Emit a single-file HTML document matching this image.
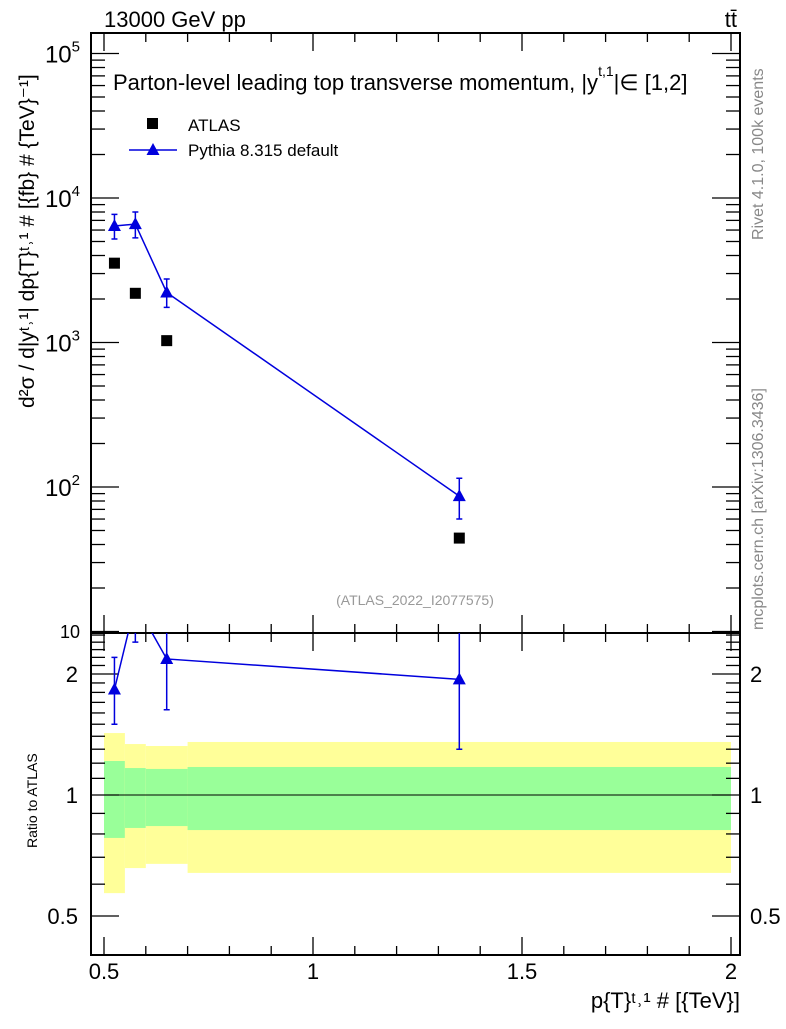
<!DOCTYPE html>
<html><head><meta charset="utf-8"><style>
body{margin:0;background:#fff;}
svg{font-family:"Liberation Sans",sans-serif;}
</style></head><body>
<svg id="c" width="786" height="1024" viewBox="0 0 786 1024" xmlns="http://www.w3.org/2000/svg"></svg>
<script>
const xVals=[0.525,0.575,0.65,1.35];
const atlasVals=[3540,2190,1030,44.3];
const pythiaVals=[6400,6600,2220,86.5];
const pythiaErrUp=[7700,8000,2750,115];
const pythiaErrDn=[5200,5300,1750,60];
const ratioVals=[1.83,3.0,2.18,1.94];
const ratioErrUp=[2.2,3.6,2.6,2.6];
const ratioErrDn=[1.5,2.4,1.63,1.3];
const binEdges=[0.5,0.55,0.6,0.7,2.0];
const greenHi=[1.215,1.167,1.161,1.174];
const greenLo=[0.782,0.828,0.837,0.818];
const yellowHi=[1.426,1.339,1.324,1.355];
const yellowLo=[0.570,0.658,0.674,0.640];
const xTicks=[0.5,1,1.5,2];
const xTickLabels=["0.5","1","1.5","2"];
const yExps=[2,3,4,5];
const ratioTicks=[0.5,1,2];
const ratioTickLabels=["0.5","1","2"];

const NS="http://www.w3.org/2000/svg";
const svg=document.getElementById('c');
const L=91,R=740,T=33,MB=633,RB=955;
const X=v=>104+(v-0.5)*418;
const Y=v=>631.5-(Math.log10(v)-1)*144.5;
const YR=v=>795-Math.log2(v)*121;
function el(tag,attrs,name,inter,parent){const e=document.createElementNS(NS,tag);for(const k in attrs)e.setAttribute(k,attrs[k]);


(parent||svg).appendChild(e);return e;}
function txt(x,y,s,size,name,extra){const t=el('text',Object.assign({x:x,y:y,'font-size':size},extra||{}),name,false);t.textContent=s;return t;}

const bands=el('g',{},'ratio-bands',false);
for(let i=0;i<4;i++){
 el('rect',{x:X(binEdges[i]),y:YR(yellowHi[i]),width:X(binEdges[i+1])-X(binEdges[i]),height:YR(yellowLo[i])-YR(yellowHi[i]),fill:'#ffff99'},'yellow-band-bin',false,bands);
 el('rect',{x:X(binEdges[i]),y:YR(greenHi[i]),width:X(binEdges[i+1])-X(binEdges[i]),height:YR(greenLo[i])-YR(greenHi[i]),fill:'#99ff99'},'green-band-bin',false,bands);
}
el('line',{x1:X(0.5),x2:R,y1:YR(1),y2:YR(1),stroke:'#000','stroke-width':1},'ratio-unity-line',false);

el('rect',{x:L,y:T,width:R-L,height:MB-T,fill:'none',stroke:'#000','stroke-width':2},'main-frame',false);
el('rect',{x:L,y:MB,width:R-L,height:RB-MB,fill:'none',stroke:'#000','stroke-width':2},'ratio-frame',false);

const tk=el('g',{stroke:'#000','stroke-width':1.3},'x-ticks',false);
for(let v=0.5;v<=2.001;v+=0.1){const maj=Math.abs(v*2-Math.round(v*2))<1e-6;const len=maj?18:9;const x=X(v);
 [[T,T+len],[MB,MB-len],[MB,MB+len],[RB,RB-len]].forEach(p=>el('line',{x1:x,x2:x,y1:p[0],y2:p[1]},'x-tick',false,tk));}
xTicks.forEach((v,i)=>txt(X(v),979,xTickLabels[i],22,'x-tick-label',{'text-anchor':'middle'}));

const yt=el('g',{stroke:'#000','stroke-width':1.3},'y-ticks',false);
for(let e=1;e<=5;e++){for(let m=1;m<10;m++){const v=m*Math.pow(10,e);const y=Y(v);if(y<T||y>MB)continue;const len=m==1?28:14;
 el('line',{x1:L,x2:L+len,y1:y,y2:y},'y-tick',false,yt);el('line',{x1:R,x2:R-len,y1:y,y2:y},'y-tick',false,yt);}}
yExps.forEach(e=>{const t=txt(80,Y(Math.pow(10,e))+9,'10',24,'y-tick-label',{'text-anchor':'end'});const s=document.createElementNS(NS,'tspan');s.setAttribute('dy','-11');s.setAttribute('font-size','15');s.textContent=e;t.appendChild(s);});
txt(80,638,'10',18,'y-tick-label-10',{'text-anchor':'end'});

for(let v=0.4;v<=2.6;v+=0.1){const y=YR(v);if(y<MB||y>RB)continue;const maj=[0.5,1,2].some(m=>Math.abs(m-v)<1e-6);const len=maj?28:14;
 el('line',{x1:L,x2:L+len,y1:y,y2:y,stroke:'#000','stroke-width':1.3},'ratio-y-tick',false);el('line',{x1:R,x2:R-len,y1:y,y2:y,stroke:'#000','stroke-width':1.3},'ratio-y-tick',false);}
ratioTicks.forEach((v,i)=>{txt(78,YR(v)+8,ratioTickLabels[i],22,'ratio-tick-label-left',{'text-anchor':'end'});txt(750,YR(v)+8,ratioTickLabels[i],22,'ratio-tick-label-right');});

const blue='#0000dd';
const clipM=el('clipPath',{id:'cm'},'main-clip',false);el('rect',{x:L,y:T,width:R-L,height:MB-T},'main-clip-rect',false,clipM);
const clipR=el('clipPath',{id:'cr'},'ratio-clip',false);el('rect',{x:L,y:MB,width:R-L,height:RB-MB},'ratio-clip-rect',false,clipR);
const gm=el('g',{'clip-path':'url(#cm)'},'main-series',false);
el('polyline',{points:xVals.map((x,i)=>X(x)+','+Y(pythiaVals[i])).join(' '),fill:'none',stroke:blue,'stroke-width':1.5},'pythia-line',false,gm);
function tri(x,y,name,g){el('polygon',{points:`${x},${y-7} ${x-6.5},${y+5} ${x+6.5},${y+5}`,fill:blue},name,false,g);}
function err(x,y1,y2,name,g){el('path',{d:`M${x},${y1}V${y2}M${x-3},${y1}h6M${x-3},${y2}h6`,stroke:blue,'stroke-width':1.5,fill:'none'},name,false,g);}
xVals.forEach((x,i)=>{err(X(x),Y(pythiaErrUp[i]),Y(pythiaErrDn[i]),'pythia-error-bar',gm);tri(X(x),Y(pythiaVals[i]),'pythia-point',gm);
 el('rect',{x:X(x)-5.5,y:Y(atlasVals[i])-5.5,width:11,height:11,fill:'#000'},'atlas-point',false,gm);});

const gr=el('g',{'clip-path':'url(#cr)'},'ratio-series',false);
el('polyline',{points:xVals.map((x,i)=>X(x)+','+YR(ratioVals[i])).join(' '),fill:'none',stroke:blue,'stroke-width':1.5},'ratio-line',false,gr);
xVals.forEach((x,i)=>{err(X(x),YR(ratioErrUp[i]),YR(ratioErrDn[i]),'ratio-error-bar',gr);tri(X(x),YR(ratioVals[i]),'ratio-point',gr);});

const lg=el('g',{},'legend',false);
el('rect',{x:147,y:118,width:11,height:11,fill:'#000'},'legend-atlas-marker',false,lg);
txt(188,131,'ATLAS',17,'legend-atlas-label');
el('line',{x1:129,x2:177,y1:150,y2:150,stroke:blue,'stroke-width':1.5},'legend-pythia-line',false,lg);
tri(153,150,'legend-pythia-marker',lg);
txt(188,156,'Pythia 8.315 default',17,'legend-pythia-label');

txt(104,27,'13000 GeV pp',22,'header-left');
txt(737,27,'tt̄',22,'header-right',{'text-anchor':'end'});
const tt=txt(113,90,'Parton-level leading top transverse momentum, |y',22,'plot-title');
const s1=document.createElementNS(NS,'tspan');s1.setAttribute('dy','-14');s1.setAttribute('font-size','14');s1.textContent='t,1';tt.appendChild(s1);
const s2=document.createElementNS(NS,'tspan');s2.setAttribute('dy','14');s2.textContent='|∈ [1,2]';tt.appendChild(s2);
txt(415,605,'(ATLAS_2022_I2077575)',14,'analysis-id',{'text-anchor':'middle',fill:'#999'});
txt(0,0,'d²σ / d|yᵗ˒¹| dp{T}ᵗ˒¹ # [{fb} # {TeV}⁻¹]',21,'y-axis-title',{transform:'translate(34,408) rotate(-90)'});
txt(0,0,'Ratio to ATLAS',14,'ratio-axis-title',{transform:'translate(37,848) rotate(-90)'});
txt(740,1008,'p{T}ᵗ˒¹ # [{TeV}]',22,'x-axis-title',{'text-anchor':'end'});
txt(0,0,'Rivet 4.1.0,  100k events',16,'rivet-label',{transform:'translate(763,240) rotate(-90)',fill:'#888'});
txt(0,0,'mcplots.cern.ch [arXiv:1306.3436]',16,'mcplots-label',{transform:'translate(763,630) rotate(-90)',fill:'#888'});
</script>
</body></html>
